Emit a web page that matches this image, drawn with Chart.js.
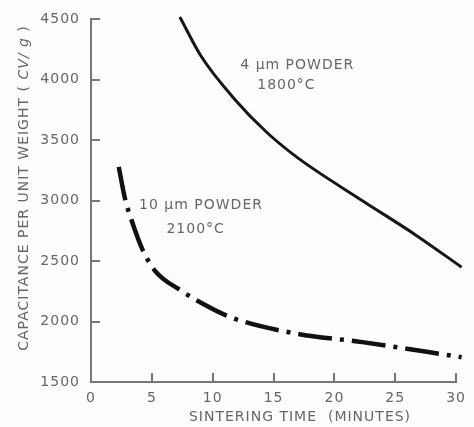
<!DOCTYPE html>
<html>
<head>
<meta charset="utf-8">
<script src="https://cdn.jsdelivr.net/npm/chart.js@4/dist/chart.umd.min.js"></script>
<style>
  html, body { margin: 0; padding: 0; background: #fdfdfd; }
  #wrap { width: 474px; height: 427px; }
</style>
</head>
<body>
<div id="wrap"><canvas id="sinter"></canvas></div>
<script>
// sintering time (minutes) vs capacitance per unit weight (CV/g)
const xTicks = [0, 5, 10, 15, 20, 25, 30];
const yTicks = [1500, 2000, 2500, 3000, 3500, 4000, 4500];

// 4 um powder, 1800 C
const fineTime = [7.3, 9.05, 11.8, 14.5, 17.05, 22.3, 26.7, 30.45];
const fineCap  = [4520, 4195, 3840, 3560, 3350, 3000, 2715, 2450];

// 10 um powder, 2100 C
const coarseTime = [2.28, 2.82, 3.36, 4.17, 5.26, 7.42, 8.78, 11.5, 16.9, 22.3, 30.45];
const coarseCap  = [3280, 3005, 2830, 2610, 2420, 2255, 2170, 2035, 1900, 1830, 1705];

// curve labels: [text line, x, y]
const curveNotes = [
  ['4 \u00b5m POWDER', 16.95, 4123],
  ['1800\u00b0C', 16.06, 3951],
  ['10 \u00b5m POWDER', 9.04, 2959],
  ['2100\u00b0C', 8.6, 2762]
];

const inkGray = '#666666';
const axisGray = '#777777';
const FONT = '"DejaVu Sans", sans-serif';

const toPoints = (xs, ys) => xs.map((x, i) => ({ x: x, y: ys[i] }));

// letter spacing to get the wide drafting lettering
const spacing = {
  id: 'spacing',
  beforeUpdate(chart) { chart.ctx.letterSpacing = '1px'; },
  beforeDraw(chart) { chart.ctx.letterSpacing = '1px'; }
};

// inward tick marks, labels and axis titles
const innerTicks = {
  id: 'innerTicks',
  afterDraw(chart) {
    const { ctx, chartArea } = chart;
    const sx = chart.scales.x, sy = chart.scales.y;
    ctx.save();
    ctx.fillStyle = axisGray;
    xTicks.forEach(v => {
      if (v === 0) return;
      const px = Math.round(sx.getPixelForValue(v));
      ctx.fillRect(px - 1, chartArea.bottom - 9, 2, 9);
    });
    yTicks.forEach(v => {
      if (v === 1500) return;
      const py = Math.round(sy.getPixelForValue(v));
      ctx.fillRect(chartArea.left, py - 1, 9, 2);
    });

    // curve labels
    ctx.fillStyle = inkGray;
    ctx.font = '14px ' + FONT;
    ctx.textAlign = 'center';
    ctx.textBaseline = 'middle';
    curveNotes.forEach(n => {
      ctx.fillText(n[0], sx.getPixelForValue(n[1]), sy.getPixelForValue(n[2]));
    });

    // x title
    ctx.fillText('SINTERING TIME  (MINUTES)', 300, 417);

    // y title with italic CV/g
    const parts = [
      ['CAPACITANCE PER UNIT WEIGHT ( ', 'normal'],
      ['CV/ g', 'italic'],
      [' )', 'normal']
    ];
    ctx.translate(24, 188);
    ctx.rotate(-Math.PI / 2);
    ctx.textAlign = 'left';
    let total = 0;
    parts.forEach(p => {
      ctx.font = p[1] + ' 14px ' + FONT;
      total += ctx.measureText(p[0]).width;
    });
    let cx = -total / 2;
    parts.forEach(p => {
      ctx.font = p[1] + ' 14px ' + FONT;
      ctx.fillText(p[0], cx, 0);
      cx += ctx.measureText(p[0]).width;
    });
    ctx.restore();
  }
};

new Chart(document.getElementById('sinter'), {
  type: 'line',
  data: {
    datasets: [
      {
        label: '4 um powder 1800 C',
        data: toPoints(fineTime, fineCap),
        borderColor: '#161616',
        borderWidth: 3,
        pointRadius: 0,
        cubicInterpolationMode: 'monotone',
        clip: false
      },
      {
        label: '10 um powder 2100 C',
        data: toPoints(coarseTime, coarseCap),
        borderColor: '#111111',
        borderWidth: 4.5,
        borderDash: [34, 8, 4, 8],
        pointRadius: 0,
        cubicInterpolationMode: 'monotone',
        clip: false
      }
    ]
  },
  options: {
    responsive: true,
    maintainAspectRatio: false,
    animation: false,
    layout: { padding: { top: 16, right: 13, left: 0, bottom: 0 } },
    plugins: { legend: { display: false }, tooltip: { enabled: false } },
    scales: {
      x: {
        type: 'linear',
        min: 0,
        max: 30,
        grid: { display: false, drawTicks: false },
        border: { display: true, color: axisGray, width: 2 },
        ticks: {
          stepSize: 5,
          padding: 8,
          color: inkGray,
          maxRotation: 0,
          font: { family: FONT, size: 14 },
          callback: v => String(v)
        },
        afterFit(scale) { scale.height = 45; }
      },
      y: {
        min: 1500,
        max: 4500,
        grid: { display: false, drawTicks: false },
        border: { display: true, color: axisGray, width: 2 },
        ticks: {
          stepSize: 500,
          padding: 11,
          color: inkGray,
          font: { family: FONT, size: 14 },
          callback: v => String(v)
        },
        afterFit(scale) { scale.width = 91; }
      }
    }
  },
  plugins: [spacing, innerTicks]
});
</script>
</body>
</html>
